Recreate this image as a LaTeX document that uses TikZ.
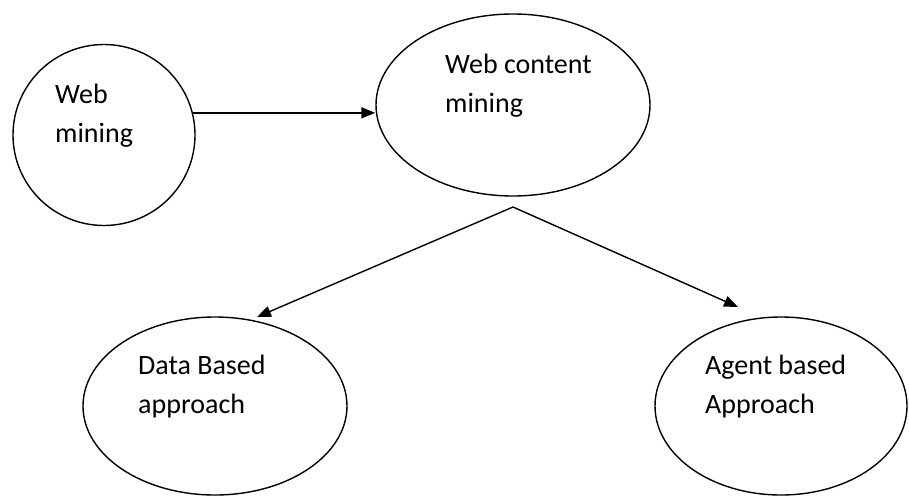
\documentclass[tikz,border=0pt]{standalone}
\usepackage{fontspec}
\setmainfont{Carlito}
\usetikzlibrary{arrows.meta,shapes.geometric}
\begin{document}
\begin{tikzpicture}[x=1pt,y=-1pt,
  ell/.style={draw, ellipse, line width=1.4pt, inner sep=0pt},
  lbl/.style={anchor=base west, align=left, inner sep=0pt, font=\fontsize{28}{39}\selectfont},
  arr/.style={-{Triangle[length=14pt,width=11pt]}, line width=1.4pt}]
\useasboundingbox (0,0) rectangle (909,496);
\node[ell, minimum width=182pt, minimum height=181pt] (wm) at (104,135) {};
\node[ell, minimum width=274pt, minimum height=182pt] (wcm) at (513,105) {};
\node[ell, minimum width=264pt, minimum height=178pt] (dba) at (215,406) {};
\node[ell, minimum width=252pt, minimum height=178pt] (aba) at (781,406) {};
\node[lbl] (wmt) at (55,142) {Web\\mining};
\node[lbl] (wcmt) at (445,112) {Web content\\mining};
\node[lbl] (dbt) at (138,413) {Data Based\\approach};
\node[lbl] (abt) at (705,413) {Agent based\\Approach};
\coordinate (apex) at (513,207);
\coordinate (tipL) at (257,317);
\coordinate (tipR) at (738,307);
\draw[arr] (wm.14) -- (wm.14 -| wcm.west);
\draw[arr] (apex) -- (tipL);
\draw[arr] (apex) -- (tipR);
\end{tikzpicture}
\end{document}
